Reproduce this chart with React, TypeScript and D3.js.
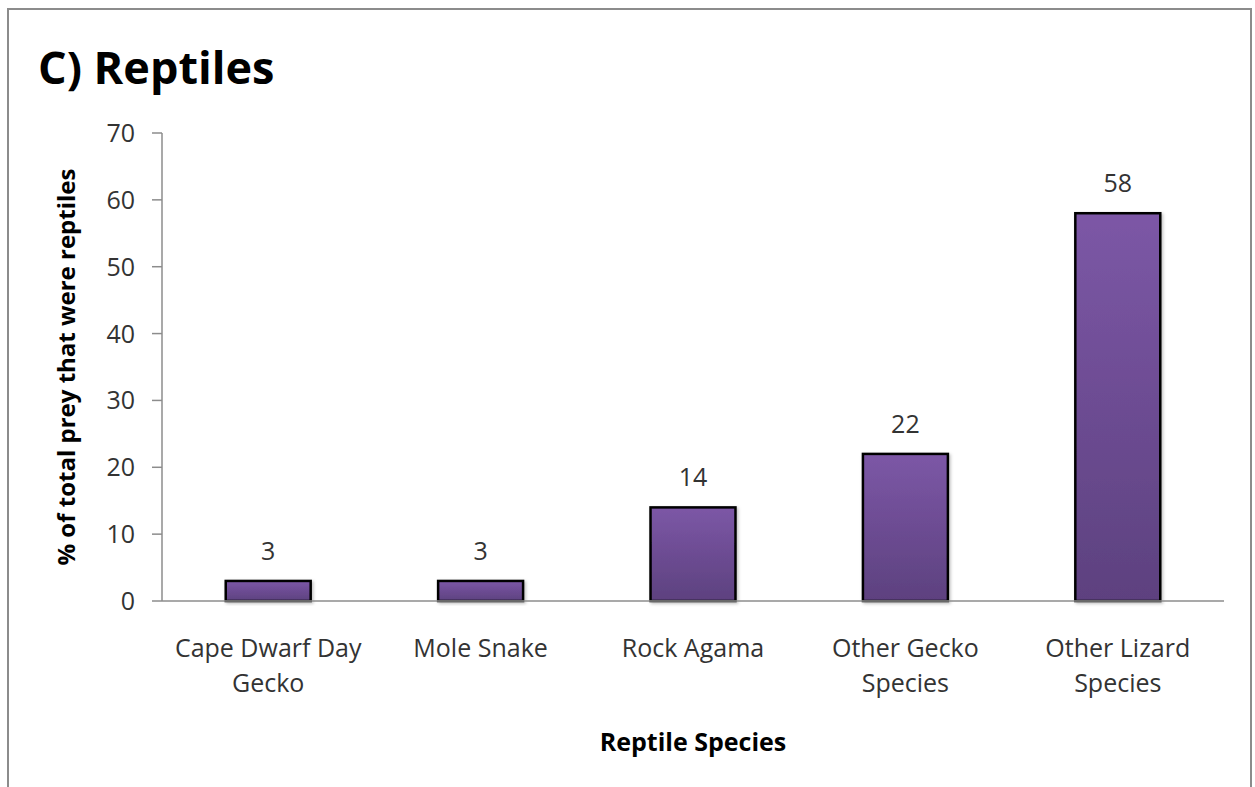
import React from "react";
import * as d3 from "d3";

const categories: string[][] = [
  ["Cape Dwarf Day", "Gecko"],
  ["Mole Snake"],
  ["Rock Agama"],
  ["Other Gecko", "Species"],
  ["Other Lizard", "Species"],
];
const values: number[] = [3, 3, 14, 22, 58];
const yTicks: number[] = [0, 10, 20, 30, 40, 50, 60, 70];

const title = "C) Reptiles";
const xTitle = "Reptile Species";
const yTitle = "% of total prey that were reptiles";

const W = 1255;
const H = 787;
const plot = { left: 162, right: 1224, top: 133, bottom: 601 };
const FONT = "'Open Sans', 'Liberation Sans', sans-serif";

export default function App() {
  const keys = categories.map((c) => c.join(" "));
  const x = d3
    .scaleBand<string>()
    .domain(keys)
    .range([plot.left, plot.right])
    .paddingInner(0.6)
    .paddingOuter(0.3);
  const y = d3.scaleLinear().domain([0, 70]).range([plot.bottom, plot.top]);
  const cx = (i: number) => (x(keys[i]) as number) + x.bandwidth() / 2;

  return (
    <svg
      width={W}
      height={H}
      viewBox={`0 0 ${W} ${H}`}
      style={{ position: "absolute", left: 0, top: 0, display: "block", background: "#fff" }}
      fontFamily={FONT}
    >
      <defs>
        <linearGradient id="barFill" x1="0" y1="0" x2="0" y2="1">
          <stop offset="0%" stopColor="#7c57a6" />
          <stop offset="100%" stopColor="#5d417f" />
        </linearGradient>
        <filter id="barShadow" x="-20%" y="-20%" width="140%" height="140%">
          <feDropShadow dx="1.5" dy="1.5" stdDeviation="1.5" floodColor="#000" floodOpacity="0.25" />
        </filter>
      </defs>

      {/* outer frame */}
      <rect x={8} y={9} width={1243} height={H + 20} fill="#fff" stroke="#8c8c8c" strokeWidth={2} />

      {/* title */}
      <text x={38} y={84} fontSize={45} fontWeight={700} fill="#000">
        {title}
      </text>

      {/* y axis */}
      <line x1={plot.left} x2={plot.left} y1={y(70)} y2={y(0)} stroke="#8c8c8c" strokeWidth={1.5} />
      {yTicks.map((t) => (
        <g key={t}>
          <line x1={plot.left - 10} x2={plot.left} y1={y(t)} y2={y(t)} stroke="#8c8c8c" strokeWidth={1.5} />
          <text x={135} y={y(t)} dy="0.36em" textAnchor="end" fontSize={25} fill="#333">
            {t}
          </text>
        </g>
      ))}

      {/* bars */}
      {values.map((v, i) => (
        <rect
          key={keys[i]}
          x={x(keys[i])}
          y={y(v)}
          width={x.bandwidth()}
          height={y(0) - y(v)}
          fill="url(#barFill)"
          stroke="#000"
          strokeWidth={2.5}
          filter="url(#barShadow)"
        />
      ))}

      {/* x axis */}
      <line x1={plot.left} x2={plot.right} y1={y(0)} y2={y(0)} stroke="#8c8c8c" strokeWidth={1.5} />

      {/* value labels */}
      {values.map((v, i) => (
        <text key={keys[i]} x={cx(i)} y={y(v) - 21} textAnchor="middle" fontSize={25} fill="#333">
          {v}
        </text>
      ))}

      {/* category labels */}
      {categories.map((lines, i) => (
        <text key={keys[i]} x={cx(i)} y={657} textAnchor="middle" fontSize={25} fill="#333">
          {lines.map((ln, j) => (
            <tspan key={j} x={cx(i)} dy={j === 0 ? 0 : 35}>
              {ln}
            </tspan>
          ))}
        </text>
      ))}

      {/* axis titles */}
      <text x={(plot.left + plot.right) / 2} y={751} textAnchor="middle" fontSize={25} fontWeight={700} fill="#000">
        {xTitle}
      </text>
      <text
        transform={`translate(75, ${(plot.top + plot.bottom) / 2}) rotate(-90)`}
        textAnchor="middle"
        fontSize={24}
        fontWeight={700}
        fill="#000"
      >
        {yTitle}
      </text>
    </svg>
  );
}
